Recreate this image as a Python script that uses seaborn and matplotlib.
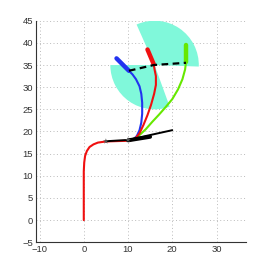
import matplotlib
matplotlib.use("Agg")
import matplotlib.pyplot as plt
from matplotlib.patches import Wedge
import seaborn as sns
import pandas as pd

# ---- data ----
red_x = [0, 0, 0.1, 0.3, 0.7, 1.3, 2.2, 3.2, 5, 8, 10, 11, 11.8, 12.6, 13.5, 14.4, 15.2, 15.9, 16.3, 16.3, 16.0, 15.8]
red_y = [0, 11, 13, 14.5, 15.6, 16.5, 17.1, 17.5, 17.75, 17.85, 17.9, 18.1, 18.6, 19.6, 21.5, 23.7, 26, 28.5, 30.5, 32.5, 34, 35.2]
red_end_x = [15.8, 14.4]
red_end_y = [35.2, 38.5]

blue_x = [11.3, 12.0, 12.6, 13.0, 13.2, 13.2, 13.0, 12.6, 11.8, 11.0, 10.2]
blue_y = [18.3, 19.0, 20.3, 22.0, 24.0, 26.5, 28.5, 30.2, 31.8, 32.9, 33.7]
blue_end_x = [10.2, 7.4]
blue_end_y = [33.7, 36.5]

green_x = [11.5, 12.5, 14.0, 15.5, 17.0, 18.5, 20.0, 21.3, 22.3, 22.9, 23.1]
green_y = [18.3, 19.1, 20.5, 22.2, 23.8, 25.5, 27.3, 29.5, 31.8, 34.0, 35.6]
green_end_x = [23.1, 23.1]
green_end_y = [35.6, 39.5]

dash_x = [10.2, 15.8, 23.1]
dash_y = [33.7, 35.0, 35.5]

black_x = [5, 10, 20]
black_y = [17.8, 18.1, 20.3]
heading_x = [10, 15]
heading_y = [18.0, 18.8]
mark_x = [5, 10]
mark_y = [17.8, 18.1]

wedge_center = (16, 35)
wedge_radius = 10
wedge_upper = (-2, 114)
wedge_lower = (180, 290)

xticks = [-10, 0, 10, 20, 30]
yticks = [-5, 0, 5, 10, 15, 20, 25, 30, 35, 40, 45]

# ---- drawing ----
sns.set_style("white")
plt.rcParams['font.family'] = ['Liberation Sans', 'DejaVu Sans']

fig = plt.figure(figsize=(2.72, 2.73), dpi=100)
ax = fig.add_axes([36/272, 30.7/273, 209.7/272, 221.6/273])

cyan = '#80F8DA'
for th in (wedge_upper, wedge_lower):
    ax.add_patch(Wedge(wedge_center, wedge_radius, th[0], th[1],
                       facecolor=cyan, edgecolor='none', zorder=1))

def line(x, y, color, lw, **kw):
    df = pd.DataFrame({'x': x, 'y': y})
    sns.lineplot(data=df, x='x', y='y', sort=False, estimator=None,
                 color=color, linewidth=lw, ax=ax, zorder=3, **kw)

red = '#F01010'
blue = '#2233F0'
green = '#66E800'

line(blue_x, blue_y, blue, 1.5)
line(green_x, green_y, green, 1.5)
line(red_x, red_y, red, 1.5)
line(red_end_x, red_end_y, red, 3.2)
line(blue_end_x, blue_end_y, blue, 3.2)
line(green_end_x, green_end_y, green, 3.2)
line(black_x, black_y, 'black', 1.4)
line(heading_x, heading_y, 'black', 2.8)
line(dash_x, dash_y, 'black', 1.6, linestyle=(0, (3, 2)))
sns.scatterplot(x=mark_x, y=mark_y, marker='*', s=18, color='#555555',
                edgecolor='none', ax=ax, zorder=4)

ax.set_xlim(-10.8, 36.6)
ax.set_ylim(-5, 45)
ax.set_xticks(xticks)
ax.set_yticks(yticks)
ax.set_xlabel('')
ax.set_ylabel('')
ax.grid(True, linestyle=(0, (1, 2.5)), color='#BBBBBB', linewidth=0.7, zorder=0)
ax.set_axisbelow(True)
for s in ('top', 'right'):
    ax.spines[s].set_visible(False)
for s in ('left', 'bottom'):
    ax.spines[s].set_color('#333333')
    ax.spines[s].set_linewidth(0.8)
ax.tick_params(direction='in', length=2.5, width=0.6, labelsize=6.8,
               colors='#333333', pad=2)

fig.savefig('out.png', dpi=100)
